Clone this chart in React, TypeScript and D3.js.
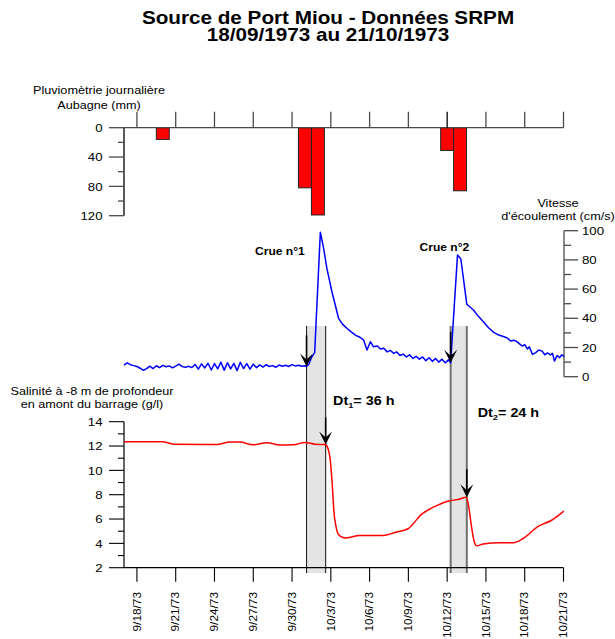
import React from "react";
import * as d3 from "d3";

// ---------- data ----------
const xTickDates = ["1973-09-18","1973-09-21","1973-09-24","1973-09-27","1973-09-30","1973-10-03","1973-10-06","1973-10-09","1973-10-12","1973-10-15","1973-10-18","1973-10-21"];

const rainDates = ["1973-09-20","1973-09-21","1973-10-01","1973-10-02","1973-10-12","1973-10-13","1973-10-14"];
const rainMm = [16, 0, 82, 119, 31, 86, 0];
const rainTicks = [0, 40, 80, 120];

// days since 18/09/1973 00:00
const velDays = [
  -1.0,-0.75,-0.5,-0.25,0,0.25,0.5,0.75,1.0,1.25,1.5,1.75,2.0,2.25,2.5,2.75,3.0,3.25,3.5,3.75,
  4.0,4.25,4.5,4.75,5.0,5.25,5.5,5.75,6.0,6.25,6.5,6.75,7.0,7.25,7.5,7.75,8.0,8.25,8.5,8.75,
  9.0,9.25,9.5,9.75,10.0,10.25,10.5,10.75,11.0,11.25,11.5,11.75,12.0,12.25,12.5,12.75,13.0,13.12,
  13.3,13.5,13.75,14.19,14.44,14.7,15.09,15.6,15.9,16.26,16.6,16.9,17.25,17.54,17.8,18.06,18.3,18.6,18.84,19.1,19.36,19.6,19.87,
  20.1,20.35,20.6,20.85,21.1,21.35,21.6,21.85,22.1,22.35,22.6,22.85,23.1,23.35,23.6,23.85,24.1,24.27,
  24.8,25.06,25.52,26.03,26.4,26.8,27.2,27.6,28.0,28.4,28.65,28.9,29.15,29.4,29.6,29.8,30.0,30.2,30.35,30.6,30.85,31.1,31.35,31.55,31.76,32.0,32.15,32.3,32.5,32.7,32.85,33.05
];
const velValues = [
  8.0,9.5,8.2,7.6,7.0,5.8,4.4,5.5,7.2,5.6,7.5,6.2,7.8,6.8,7.4,6.1,7.3,8.6,6.9,6.4,
  7.1,6.3,8.4,5.2,8.8,6.0,9.2,4.6,9.0,5.4,10.0,4.5,9.6,5.3,9.1,4.2,9.8,5.6,8.9,5.2,
  8.6,6.2,8.1,6.6,8.2,7.0,7.6,6.5,8.0,7.2,7.8,7.0,8.3,7.4,7.9,7.2,7.5,7.0,
  8.5,13.0,16.5,99,88,74,58,40,36,33,30.5,28.5,27,25,18.3,24,20.5,21,19,19.5,17,18,16,
  17,14.5,15.5,13.5,15,12.5,14,12,13.5,11,13,10.5,12.5,10,12,9.5,11.5,9.5,
  83.3,80.6,49.6,45.7,41.5,37.7,33.5,30.4,28.5,27.4,26.5,24.5,25,24,22.5,21,22,19,20.5,15.3,16.5,18.3,17.5,15,16.3,15,16,10.7,14.5,13,15,14
];
const velTicks = [0, 20, 40, 60, 80, 100];

const salDays = [-1,1.94,2.95,6.17,7.2,7.97,8.98,10.04,11.07,12.1,13.0,13.77,14.57,14.78,14.94,15.1,15.25,15.4,15.55,15.79,16.1,17.25,19.06,19.96,20.97,22.03,23.19,24.2,24.82,25.49,25.67,25.88,26.06,26.28,26.79,28.08,29.11,29.88,31.04,32.08,33.03];
const salValues = [12.35,12.35,12.15,12.12,12.33,12.33,12.1,12.28,12.08,12.1,12.3,12.15,12.12,11.8,11.0,9.0,6.5,5.4,4.8,4.55,4.45,4.65,4.65,4.9,5.2,6.4,7.1,7.5,7.6,7.8,7.0,5.4,4.3,3.8,3.95,4.05,4.05,4.4,5.4,5.9,6.65];
const salTicks = [2, 4, 6, 8, 10, 12, 14];

const floodStart = [13.12, 24.27];
const floodEnd = [14.6, 25.52];
const floodLabels = ["Crue n°1", "Crue n°2"];
const dtSub = ["1", "2"];
const dtText = ["= 36 h", "= 24 h"];
const velArrowValues = [7.0, 9.5];
const salArrowValues = [12.12, 7.8];

// ---------- helpers ----------
const BASE = Date.UTC(1973, 8, 18);
const dayDate = (d: number) => new Date(BASE + d * 864e5);
const parse = d3.utcParse("%Y-%m-%d");
const fmt = d3.utcFormat("%-m/%-d/%y");
const FONT = "'Liberation Sans', Arial, Helvetica, sans-serif";
const K = 1.15;

function T(props: any) {
  const { x, y, anchor = "start", size = 11, weight = "normal", rotate = 0, dy, children, fill = "#000" } = props;
  return (
    <text
      transform={`translate(${x},${y}) rotate(${rotate}) scale(${K},1)`}
      textAnchor={anchor}
      fontSize={size}
      fontWeight={weight}
      fontFamily={FONT}
      dy={dy}
      fill={fill}
    >
      {children}
    </text>
  );
}

function Arrow({ x, tipY, len }: { x: number; tipY: number; len: number }) {
  return (
    <g>
      <line x1={x} x2={x} y1={tipY - len} y2={tipY - 4} stroke="#000" strokeWidth={1.6} />
      <path d={`M${x},${tipY} L${x - 6.5},${tipY - 13} L${x},${tipY - 7} L${x + 6.5},${tipY - 13} Z`} fill="#000" />
    </g>
  );
}

export default function App() {
  const x = d3.scaleUtc().domain([new Date(Date.UTC(1973, 8, 17)), new Date(Date.UTC(1973, 9, 21))]).range([124, 563.5]);
  const yRain = d3.scaleLinear().domain([0, 120]).range([127.7, 215.7]);
  const yVel = d3.scaleLinear().domain([0, 100]).range([376.7, 230.7]);
  const ySal = d3.scaleLinear().domain([2, 14]).range([567.7, 421.7]);

  const tickDates = xTickDates.map((s) => parse(s) as Date);
  const axisGrey = "#4a4a4a";

  const velLine = d3.line<number>()
    .x((_, i) => x(dayDate(velDays[i])))
    .y((v) => yVel(v))(velValues) as string;
  const salLine = d3.line<number>()
    .x((_, i) => x(dayDate(salDays[i])))
    .y((v) => ySal(v))
    .curve(d3.curveMonotoneX)(salValues) as string;

  const x0 = x.range()[0];
  const x1 = x.range()[1];
  const halfDay = 864e5 / 2;

  return (
    <svg width={615} height={639} style={{ position: "absolute", left: 0, top: 0, background: "#fff" }}>
      <rect x={0} y={0} width={615} height={639} fill="#fff" />
      {/* Title */}
      <T x={328} y={24} anchor="middle" size={18} weight="bold">Source de Port Miou - Données SRPM</T>
      <T x={328} y={41} anchor="middle" size={18} weight="bold">18/09/1973 au 21/10/1973</T>

      {/* Flood windows */}
      {floodStart.map((s, i) => {
        const a = x(dayDate(s));
        const b = x(dayDate(floodEnd[i]));
        const stroke = i === 0 ? "#222" : "#707070";
        const sw = i === 0 ? 1.1 : 2;
        return (
          <g key={"fw" + i}>
            <rect x={a} y={326} width={b - a} height={573 - 326} fill="#e4e4e4" />
            <line x1={a} x2={a} y1={326} y2={573} stroke={stroke} strokeWidth={sw} />
            <line x1={b} x2={b} y1={326} y2={573} stroke={stroke} strokeWidth={sw} />
          </g>
        );
      })}

      {/* Rain panel */}
      <T x={99} y={93.5} anchor="middle" size={11}>Pluviomètrie journalière</T>
      <T x={99} y={109} anchor="middle" size={11}>Aubagne (mm)</T>
      {rainMm.map((v, i) => {
        const c = (parse(rainDates[i]) as Date).getTime();
        const a = x(new Date(c - halfDay));
        const b = x(new Date(c + halfDay));
        return (
          <rect key={"r" + i} x={a} y={yRain(0)} width={b - a} height={Math.max(0, yRain(v) - yRain(0))} fill="#ff0000" stroke="#222" strokeWidth={1} />
        );
      })}
      <line x1={x0} x2={x1} y1={yRain(0)} y2={yRain(0)} stroke={axisGrey} strokeWidth={1.3} />
      {tickDates.map((d, i) => (
        <line key={"rt" + i} x1={x(d)} x2={x(d)} y1={yRain(0)} y2={yRain(0) - 16} stroke={i === 8 ? "#000" : axisGrey} strokeWidth={1.3} />
      ))}
      <line x1={x0} x2={x0} y1={yRain(0)} y2={yRain(120)} stroke="#000" strokeWidth={1.3} />
      {d3.range(0, 121, 20).map((v) => (
        <line key={"rm" + v} x1={x0} x2={x0 - (v % 40 === 0 ? 15 : 6)} y1={yRain(v)} y2={yRain(v)} stroke={axisGrey} strokeWidth={1.3} />
      ))}
      {rainTicks.map((v) => (
        <T key={"rl" + v} x={102.5} y={yRain(v)} dy="0.36em" anchor="end" size={11.5}>{v}</T>
      ))}

      {/* Velocity panel */}
      <T x={558} y={206.5} anchor="middle" size={11}>Vitesse</T>
      <T x={558} y={219.5} anchor="middle" size={11}>d'écoulement (cm/s)</T>
      <line x1={x1 + 0.5} x2={x1 + 0.5} y1={yVel(0)} y2={yVel(100)} stroke={axisGrey} strokeWidth={1.3} />
      {d3.range(0, 101, 10).map((v) => (
        <line key={"vm" + v} x1={x1 + 0.5} x2={x1 + 0.5 + (v % 20 === 0 ? 14 : 7)} y1={yVel(v)} y2={yVel(v)} stroke={axisGrey} strokeWidth={1.3} />
      ))}
      {velTicks.map((v) => (
        <T key={"vl" + v} x={582} y={yVel(v)} dy="0.36em" anchor="start" size={11.5}>{v}</T>
      ))}
      <path d={velLine} fill="none" stroke="#0000ff" strokeWidth={1.5} strokeLinejoin="round" />

      {/* Salinity panel */}
      <T x={92} y={394.5} anchor="middle" size={11}>Salinité à -8 m de profondeur</T>
      <T x={92} y={408} anchor="middle" size={11}>en amont du barrage (g/l)</T>
      <line x1={x0} x2={x0} y1={ySal(2)} y2={ySal(14)} stroke="#000" strokeWidth={1.2} />
      {d3.range(2, 15, 1).map((v) => (
        <line key={"sm" + v} x1={x0} x2={x0 - (v % 2 === 0 ? 15 : 6)} y1={ySal(v)} y2={ySal(v)} stroke="#000" strokeWidth={1.1} />
      ))}
      {salTicks.map((v) => (
        <T key={"sl" + v} x={102.5} y={ySal(v)} dy="0.36em" anchor="end" size={11.5}>{v}</T>
      ))}
      <line x1={x0} x2={x1} y1={ySal(2)} y2={ySal(2)} stroke="#000" strokeWidth={1.2} />
      {tickDates.map((d, i) => (
        <g key={"xt" + i}>
          <line x1={x(d)} x2={x(d)} y1={ySal(2)} y2={ySal(2) + 14} stroke="#000" strokeWidth={1.1} />
          <T x={x(d) + 3.7} y={592} rotate={-90} anchor="end" size={10.3}>{fmt(d)}</T>
        </g>
      ))}
      <path d={salLine} fill="none" stroke="#ff0000" strokeWidth={1.5} />

      {/* Annotations */}
      <T x={255} y={255} size={10.5} weight="bold">{floodLabels[0]}</T>
      <T x={419.5} y={251} size={10.5} weight="bold">{floodLabels[1]}</T>
      {[[333, 405], [477.7, 416.7]].map((p, i) => (
        <text key={"dt" + i} transform={`translate(${p[0]},${p[1]}) scale(${K},1)`} fontFamily={FONT} fontWeight="bold" fontSize={12.5}>
          Dt<tspan fontSize={8} dy={3}>{dtSub[i]}</tspan><tspan dy={-3}>{dtText[i]}</tspan>
        </text>
      ))}
      {floodStart.map((s, i) => (
        <Arrow key={"va" + i} x={x(dayDate(s))} tipY={yVel(velArrowValues[i])} len={31} />
      ))}
      {floodEnd.map((s, i) => (
        <Arrow key={"sa" + i} x={x(dayDate(s))} tipY={ySal(salArrowValues[i])} len={i === 0 ? 27 : 28} />
      ))}
    </svg>
  );
}
